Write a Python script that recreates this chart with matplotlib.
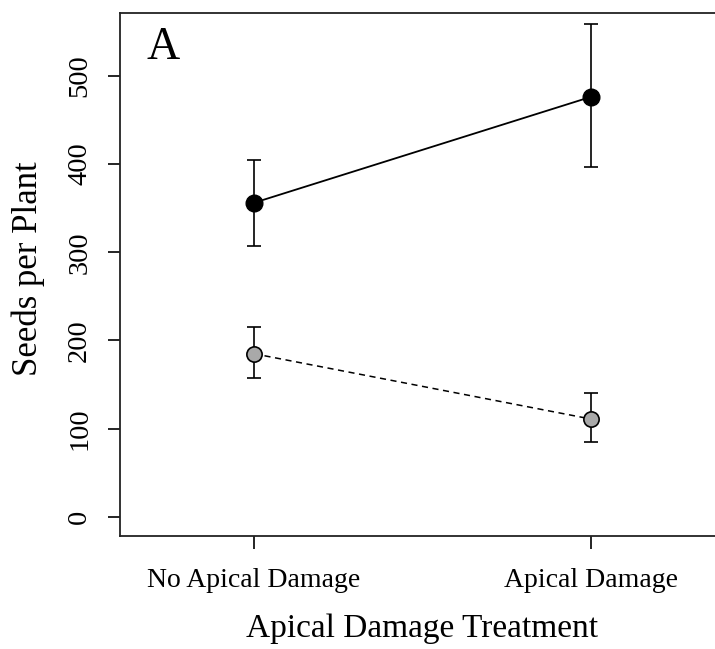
import matplotlib
matplotlib.use("Agg")
import matplotlib.pyplot as plt

categories = ["No Apical Damage", "Apical Damage"]
xpos = [1, 2]
black_mean = [356, 476]
black_lo = [307, 396]
black_hi = [405, 559]
gray_mean = [185, 111]
gray_lo = [158, 85]
gray_hi = [215, 141]
yticks = [0, 100, 200, 300, 400, 500]

plt.rcParams['font.family'] = ['Liberation Serif', 'DejaVu Serif']

fig = plt.figure(figsize=(7.15, 6.49), dpi=100)
ax = fig.add_axes([120/715, 113/649, 605/715, 523/649])

def errs(m, lo, hi):
    return [[a - b for a, b in zip(m, lo)], [c - a for a, c in zip(m, hi)]]

ax.errorbar(xpos, black_mean, yerr=errs(black_mean, black_lo, black_hi), fmt='none',
            ecolor='black', elinewidth=1.2, capsize=5, capthick=1.2, zorder=2)
ax.plot(xpos, black_mean, '-', color='black', lw=1.3, marker='o', markersize=12,
        markerfacecolor='black', markeredgecolor='black', zorder=3)
ax.errorbar(xpos, gray_mean, yerr=errs(gray_mean, gray_lo, gray_hi), fmt='none',
            ecolor='black', elinewidth=1.2, capsize=5, capthick=1.2, zorder=2)
ax.plot(xpos, gray_mean, '--', color='black', lw=1.1, dashes=(4, 3), marker='o', markersize=11,
        markerfacecolor='#a9a9a9', markeredgecolor='black', markeredgewidth=1.2, zorder=3)

ax.set_xlim(1 - 134/337, 2 + 134/337)
ax.set_ylim(-21.5, 571)
ax.set_xticks(xpos)
ax.set_xticklabels(categories, fontsize=20)
ax.set_yticks(yticks)
ax.set_yticklabels([str(v) for v in yticks], fontsize=20.5, rotation=90, va='center')
ax.tick_params(axis='both', direction='out', length=9, width=1.2, color='black')
ax.tick_params(axis='x', pad=14)
ax.tick_params(axis='y', pad=11)
for s in ax.spines.values():
    s.set_linewidth(1.3)
    s.set_color('#222222')

ax.set_xlabel("Apical Damage Treatment", fontsize=24, labelpad=15)
ax.set_ylabel("Seeds per Plant", fontsize=25)
ax.yaxis.set_label_coords(-0.124, 0.512)
ax.text(0.043, 0.975, "A", transform=ax.transAxes, fontsize=33, va='top', ha='left')

fig.savefig("out.png", dpi=100)
